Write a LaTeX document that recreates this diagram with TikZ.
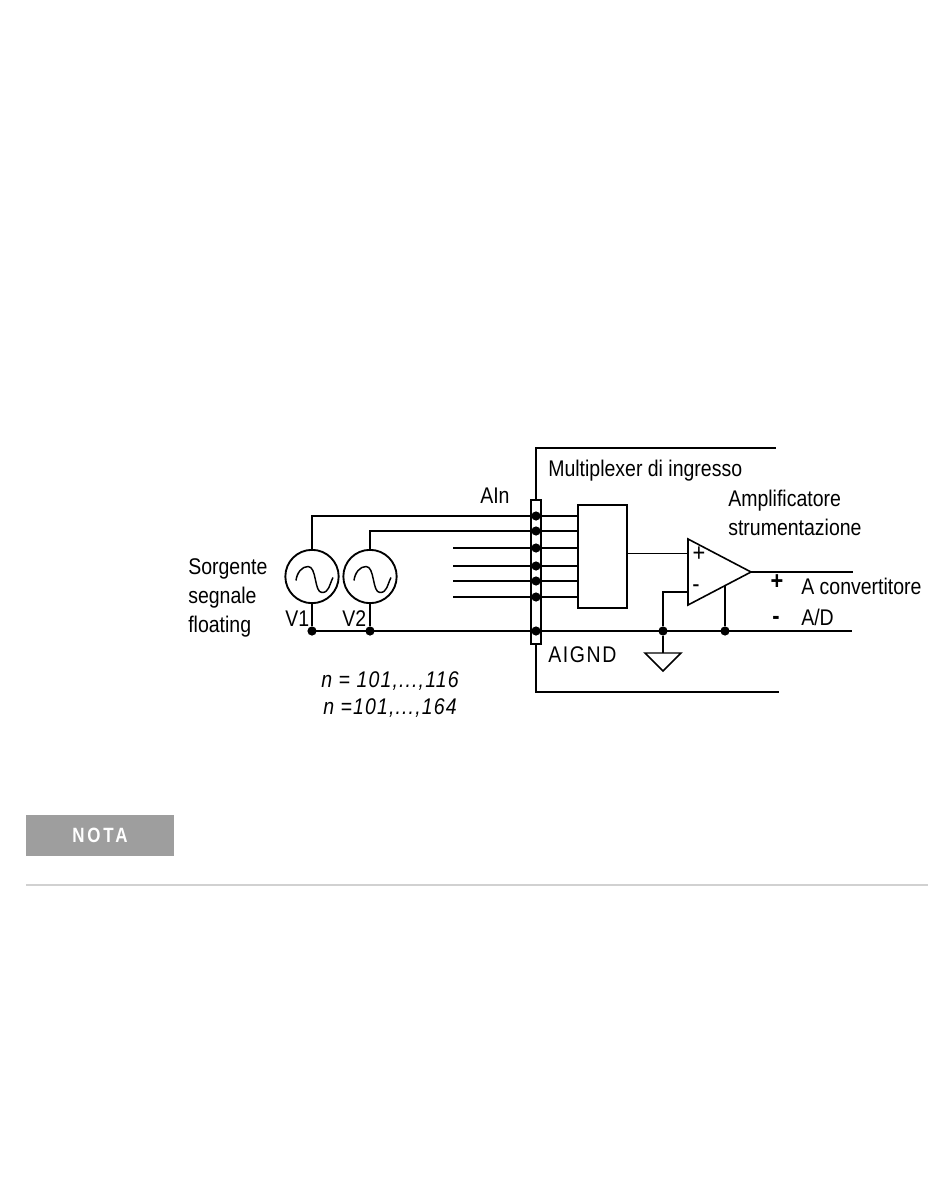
\documentclass[tikz,border=0pt]{standalone}
\usepackage{fontspec}
\setmainfont[FakeStretch=0.86]{Liberation Sans}
\newfontfamily\notafont[FakeStretch=0.82,LetterSpace=14]{Liberation Sans}
\usetikzlibrary{positioning,calc}

\tikzset{
    wire/.style={line width=1.5pt,black},
    thinwire/.style={line width=1.2pt,black},
    dot/.style={circle,fill=black,inner sep=0pt,minimum size=6.9pt},
    source/.style={circle,draw,line width=1.4pt,inner sep=0pt,minimum size=40pt},
    label/.style={anchor=base west,inner sep=0pt,font=\fontsize{17}{20}\selectfont},
    sign/.style={inner sep=0pt,font=\fontsize{19}{22}\selectfont},
    bigsign/.style={inner sep=0pt,font=\bfseries\fontsize{19}{22}\selectfont},
}

\begin{document}
\begin{tikzpicture}[x=0.75pt,y=-0.75pt]
    \useasboundingbox (0, 0) rectangle (950, 1177);

    % bus and connector strip
    \node[draw,line width=1.2pt,fill=white,minimum width=7.5pt,minimum height=108pt,inner sep=0pt] (strip) at (536, 572) {};
    \coordinate (topend) at (776, 448);
    \coordinate (botend) at (779, 692);
    \draw[thinwire] (strip.north) |- (topend);
    \draw[thinwire] (strip.south) |- (botend);

    % sources and mux
    \node[source] (vone) at (312, 576.5) {};
    \node[source] (vtwo) at (370, 576.5) {};
    \node[draw,line width=1.2pt,minimum width=36.75pt,minimum height=77.25pt,inner sep=0pt] (mux) at (602.5, 556.5) {};

    \foreach \name/\yy in {a/516, b/531, c/548, d/566, e/581, f/597} {
        \node[dot] (in\name) at (536, \yy) {};
        \coordinate (out\name) at (mux.west |- in\name);
    }
    \foreach \name/\yy in {c/548, d/566, e/581, f/597} {
        \coordinate (free\name) at (453, \yy);
        \draw[wire] (free\name) -- (out\name);
    }
    \draw[wire] (vone.north) |- (outa);
    \draw[thinwire] (vtwo.north) |- (outb);

    % common line
    \node[dot] (gndone) at (312, 631) {};
    \node[dot] (gndtwo) at (370, 631) {};
    \node[dot] (gndmux) at (536, 631) {};
    \node[dot] (gndinv) at (663, 631) {};
    \node[dot] (gndamp) at (725, 631) {};
    \coordinate (adlow) at (852, 631);
    \draw[wire] (gndone.center) -- (adlow);
    \draw[thinwire] (vone.south) -- (gndone);
    \draw[thinwire] (vtwo.south) -- (gndtwo);

    % sine waves
    \foreach \src in {vone, vtwo} {
        \draw[line width=1.1pt] ($(\src.center)+(-16, 4)$)
            .. controls +(1, -8) and +(-6, 0) .. ($(\src.center)+(-4, -10)$)
            .. controls +(9, 0) and +(-8, 0) .. ($(\src.center)+(10, 16)$)
            .. controls +(7, 0) and +(-4, 8) .. ($(\src.center)+(21, 1)$);
    }

    % amplifier
    \coordinate (ampa) at (688, 539);
    \coordinate (ampb) at (688, 605);
    \coordinate (ampc) at (751, 572);
    \draw[line width=1.2pt] (ampa) -- (ampb) -- (ampc) -- cycle;
    \coordinate (ampplus) at (688, 553.5);
    \coordinate (ampminus) at (688, 592);
    \coordinate (ampgnd) at (725, 585);
    \coordinate (adhigh) at (853, 572);
    \draw[thinwire] (mux.east |- ampplus) -- (ampplus);
    \draw[thinwire] (ampminus) -| (gndinv);
    \draw[wire] (ampgnd) -- (gndamp);
    \draw[wire] (ampc) -- (adhigh);

    % ground
    \coordinate (gndtop) at (663, 653);
    \draw[thinwire] (gndinv) -- (gndtop);
    \draw[line width=1.1pt] (645, 653) -- (681, 653) -- (663, 671) -- cycle;

    % labels
    \node[label] (sorgente) at (188, 574.5) {Sorgente};
    \node[label] (segnale) at (188, 603.5) {segnale};
    \node[label] (floating) at (188, 632) {floating};
    \node[label] (vonelabel) at (285, 626) {V1};
    \node[label] (vtwolabel) at (342, 626) {V2};
    \node[label] (ain) at (480, 503.5) {AIn};
    \node[label] (muxlabel) at (548, 476) {Multiplexer di ingresso};
    \node[label] (amplabel) at (728, 506) {Amplificatore};
    \node[label] (strlabel) at (728, 535) {strumentazione};
    \node[label] (conv) at (801, 594) {A convertitore};
    \node[label] (adlabel) at (801, 625) {A/D};
    \node[label] (aignd) at (548, 662) {\addfontfeature{LetterSpace=7}AIGND};
    \node[label] (nlow) at (321, 687) {\itshape\addfontfeature{LetterSpace=5}n = 101,...,116};
    \node[label] (nhigh) at (323, 714) {\itshape\addfontfeature{LetterSpace=5}n =101,...,164};
    \node[sign] (inplus) at (699, 554) {+};
    \node[sign] (inminus) at (696, 589) {-};
    \node[bigsign] (outplus) at (777, 582) {+};
    \node[bigsign] (outminus) at (776, 620) {-};

    % note bar
    \node[fill=black!38,minimum width=111pt,minimum height=30.75pt,inner sep=0pt] (notabox) at (100, 835.5) {};
    \node[text=white,font=\notafont\bfseries\fontsize{15.5}{17}\selectfont,inner sep=0pt] (nota) at (notabox.center) {NOTA};
    \coordinate (rulea) at (26, 885);
    \coordinate (ruleb) at (928, 885);
    \draw[black!18,line width=0.8pt] (rulea) -- (ruleb);
\end{tikzpicture}
\end{document}
